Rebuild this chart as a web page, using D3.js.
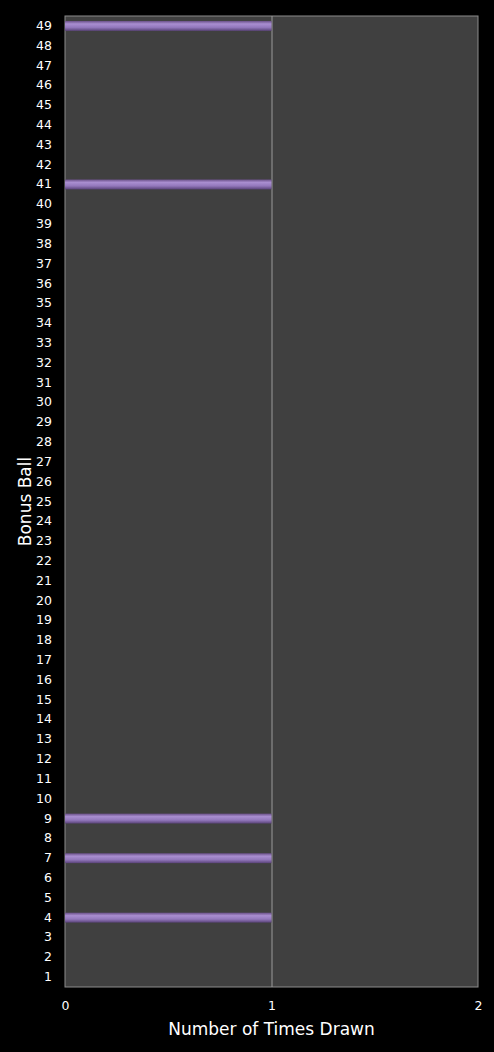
<!DOCTYPE html>
<html>
<head>
<meta charset="utf-8">
<script src="https://cdn.jsdelivr.net/npm/d3@7"></script>
<style>
  html, body { margin: 0; padding: 0; background: #000; }
  svg { display: block; }
</style>
</head>
<body>
<div id="chart"></div>
<script>
// bonus ball numbers 1..49 and how often each one was drawn
const balls = d3.range(1, 50);
const drawnBalls = [4, 7, 9, 41, 49];
const timesDrawn = balls.map(b => drawnBalls.includes(b) ? 1 : 0);
const xTicks = [0, 1, 2];

const width = 494;
const height = 1052;
const margin = { top: 16, right: 16, bottom: 65, left: 65 };
const font = "'DejaVu Sans', Verdana, sans-serif";

const svg = d3.select("#chart")
  .append("svg")
  .attr("width", width)
  .attr("height", height)
  .style("font-family", font);

const defs = svg.append("defs");
const grad = defs.append("linearGradient")
  .attr("id", "barGrad")
  .attr("x1", 0).attr("y1", 0).attr("x2", 0).attr("y2", 1);
grad.append("stop").attr("offset", "0%").attr("stop-color", "#6a5088");
grad.append("stop").attr("offset", "30%").attr("stop-color", "#a98ed0");
grad.append("stop").attr("offset", "65%").attr("stop-color", "#9378bc");
grad.append("stop").attr("offset", "100%").attr("stop-color", "#5a4379");

const x = d3.scaleLinear()
  .domain([0, 2])
  .range([margin.left, width - margin.right]);

const y = d3.scaleBand()
  .domain(balls)
  .range([height - margin.bottom, margin.top])
  .paddingInner(0.5)
  .paddingOuter(0.25);

// plot background
svg.append("rect")
  .attr("x", x(0))
  .attr("y", margin.top)
  .attr("width", x(2) - x(0))
  .attr("height", height - margin.bottom - margin.top)
  .attr("fill", "#404040")
  .attr("stroke", "#8c8c8c")
  .attr("stroke-width", 1);

// vertical gridline
svg.append("g")
  .selectAll("line")
  .data([1])
  .join("line")
  .attr("x1", d => x(d) + 0.5)
  .attr("x2", d => x(d) + 0.5)
  .attr("y1", margin.top)
  .attr("y2", height - margin.bottom)
  .attr("stroke", "#9a9a9a")
  .attr("stroke-width", 1);

// bars
svg.append("g")
  .selectAll("rect")
  .data(balls.map((b, i) => ({ ball: b, count: timesDrawn[i] })).filter(d => d.count > 0))
  .join("rect")
  .attr("x", x(0))
  .attr("y", d => y(d.ball))
  .attr("width", d => x(d.count) - x(0))
  .attr("height", y.bandwidth())
  .attr("fill", "url(#barGrad)");

// y axis
const yAxis = svg.append("g")
  .attr("transform", `translate(${margin.left},0)`)
  .call(d3.axisLeft(y).tickSize(0).tickPadding(13));
yAxis.select(".domain").remove();
yAxis.attr("font-family", font).attr("font-size", 12.5);
yAxis.selectAll("text").attr("fill", "#ffffff");

// x axis
const xAxis = svg.append("g")
  .attr("transform", `translate(0,${height - margin.bottom})`)
  .call(d3.axisBottom(x).tickValues(xTicks).tickFormat(d3.format("d")).tickSize(0).tickPadding(14));
xAxis.select(".domain").remove();
xAxis.attr("font-family", font).attr("font-size", 12.5);
xAxis.selectAll("text").attr("fill", "#ffffff");

// axis titles
svg.append("text")
  .attr("x", (x(0) + x(2)) / 2)
  .attr("y", 1035)
  .attr("text-anchor", "middle")
  .attr("fill", "#ffffff")
  .attr("font-family", font)
  .attr("font-size", 17)
  .text("Number of Times Drawn");

svg.append("text")
  .attr("transform", `translate(31,${(margin.top + height - margin.bottom) / 2}) rotate(-90)`)
  .attr("text-anchor", "middle")
  .attr("fill", "#ffffff")
  .attr("font-family", font)
  .attr("font-size", 17)
  .text("Bonus Ball");
</script>
</body>
</html>
